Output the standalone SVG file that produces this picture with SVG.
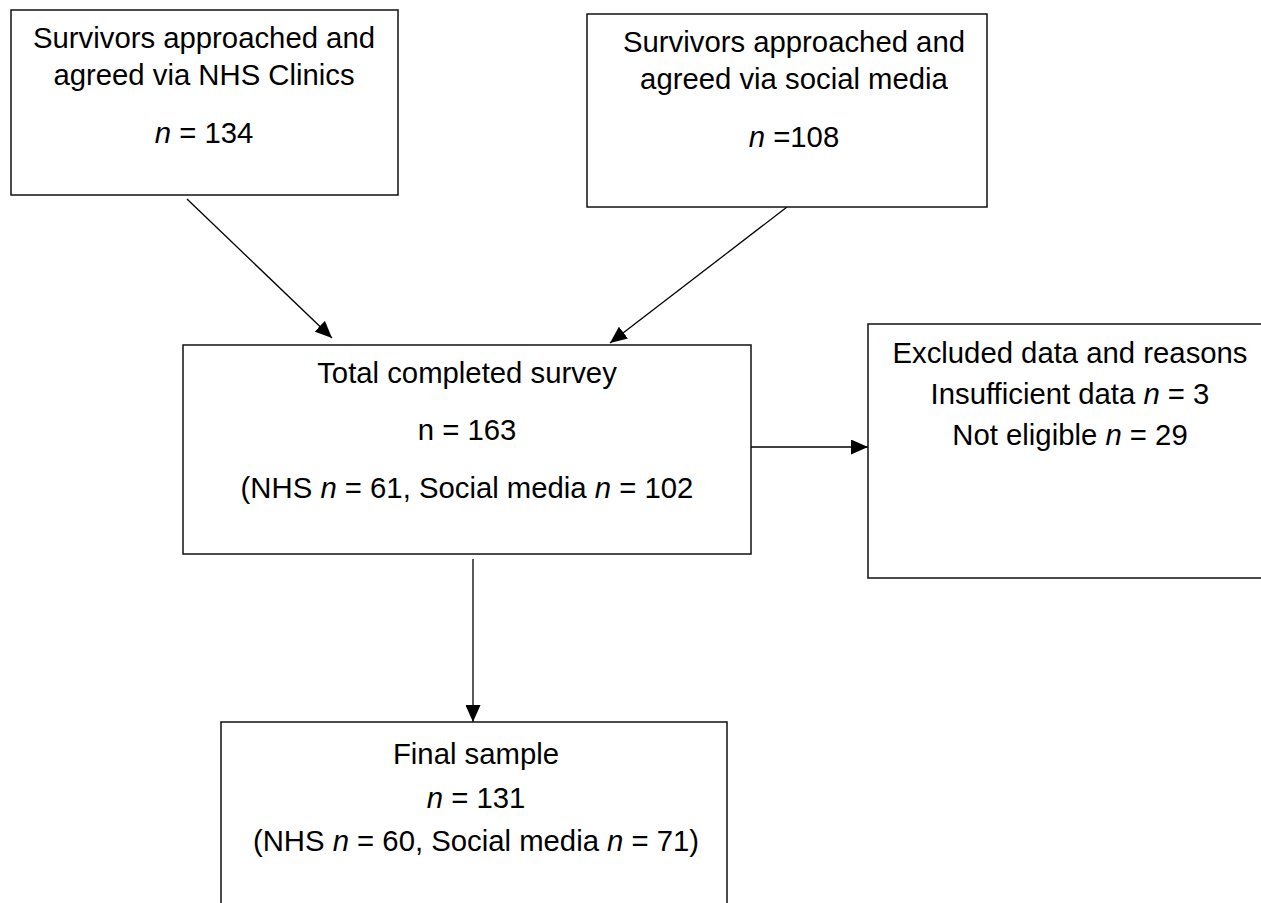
<svg xmlns="http://www.w3.org/2000/svg" width="1261" height="903" viewBox="0 0 1261 903">
<style>
.box{fill:#fff;stroke:#111;stroke-width:1.5}
.t{font-family:"Liberation Sans",Arial,sans-serif;font-size:29.3px;fill:#000;text-anchor:middle}
.i{font-style:italic}
.c{stroke:#000;stroke-width:1.3;fill:none;marker-end:url(#ah)}
</style>
<defs>
<marker id="ah" markerUnits="userSpaceOnUse" markerWidth="17" markerHeight="15" refX="17" refY="7.5" orient="auto">
<path d="M0,0 L17,7.5 L0,15 z" fill="#000"/>
</marker>
</defs>
<rect width="1261" height="903" fill="#fff"/>
<g id="connectors">
<line class="c" x1="187" y1="199" x2="332" y2="338"/>
<line class="c" x1="787" y1="207" x2="610" y2="343"/>
<line class="c" x1="751" y1="447" x2="868" y2="447"/>
<line class="c" x1="473" y1="559" x2="473" y2="722"/>
</g>
<g id="nhs">
<rect class="box" x="11" y="10" width="387" height="185"/>
<text class="t" x="204" y="48">Survivors approached and</text>
<text class="t" x="204" y="85">agreed via NHS Clinics</text>
<text class="t" x="204" y="143"><tspan class="i">n</tspan> = 134</text>
</g>
<g id="social">
<rect class="box" x="587" y="14" width="400" height="193"/>
<text class="t" x="794" y="52">Survivors approached and</text>
<text class="t" x="794" y="89">agreed via social media</text>
<text class="t" x="794" y="147"><tspan class="i">n</tspan> =108</text>
</g>
<g id="total">
<rect class="box" x="183" y="345" width="568" height="209"/>
<text class="t" x="467" y="383">Total completed survey</text>
<text class="t" x="467" y="440">n = 163</text>
<text class="t" x="467" y="498">(NHS <tspan class="i">n</tspan> = 61, Social media <tspan class="i">n</tspan> = 102</text>
</g>
<g id="excluded">
<rect class="box" x="868" y="324" width="400" height="254"/>
<text class="t" x="1070" y="363">Excluded data and reasons</text>
<text class="t" x="1070" y="404">Insufficient data <tspan class="i">n</tspan> = 3</text>
<text class="t" x="1070" y="445">Not eligible <tspan class="i">n</tspan> = 29</text>
</g>
<g id="final">
<rect class="box" x="221" y="722" width="506" height="190"/>
<text class="t" x="476" y="764">Final sample</text>
<text class="t" x="476" y="808"><tspan class="i">n</tspan> = 131</text>
<text class="t" x="476" y="851">(NHS <tspan class="i">n</tspan> = 60, Social media <tspan class="i">n</tspan> = 71)</text>
</g>
</svg>
